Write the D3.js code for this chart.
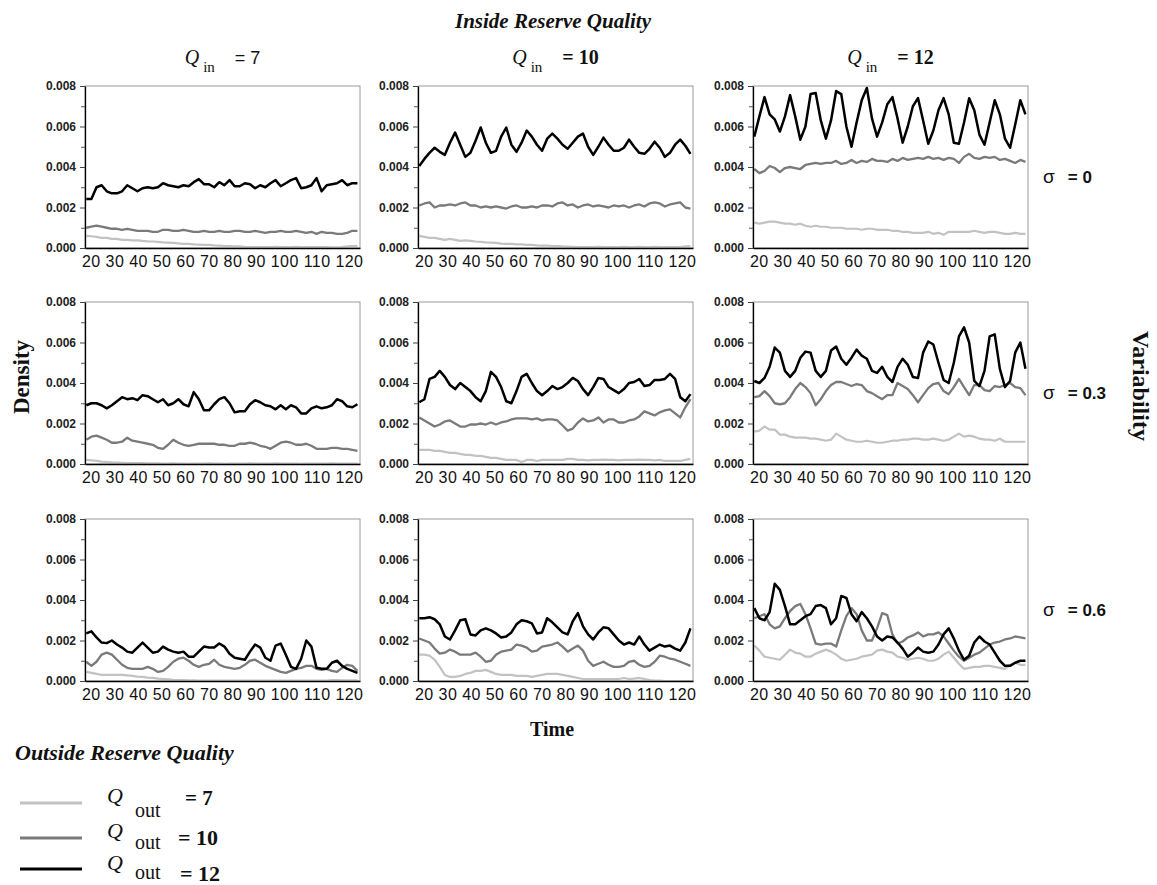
<!DOCTYPE html>
<html><head><meta charset="utf-8">
<script src="https://cdn.jsdelivr.net/npm/d3@7"></script>
<style>body{margin:0;background:#fff}svg{display:block}</style>
</head><body>
<svg id="chart" width="1157" height="885"></svg>
<script>
// ---------- categories / labels ----------
const time = [18,20,22,24,26,28,30,32,34,36,38,40,42,44,46,48,50,52,54,56,58,60,62,64,66,68,70,72,74,76,78,80,82,84,86,88,90,92,94,96,98,100,102,104,106,108,110,112,114,116,118,120,122,124];
const qInLabels = ["7","10","12"];
const sigmaLabels = ["0","0.3","0.6"];
const qOutLabels = ["7","10","12"];
const yMajorTicks = [0,0.002,0.004,0.006,0.008];
const yMinorTicks = [0.001,0.003,0.005,0.007];
const xTickLabels = ["20","30","40","50","60","70","80","90","100","110","120"];
const UNIT = 0.001; // series below are densities in units of 0.001

// ---------- series: sigma = 0 ----------
const sig0_in7_out7  = [0.6,0.58,0.55,0.5,0.5,0.45,0.45,0.4,0.4,0.38,0.38,0.35,0.33,0.32,0.3,0.28,0.27,0.25,0.23,0.2,0.2,0.18,0.17,0.15,0.15,0.13,0.12,0.1,0.1,0.08,0.08,0.06,0.05,0.05,0.05,0.05,0.05,0.06,0.05,0.05,0.05,0.06,0.05,0.05,0.04,0.05,0.05,0.04,0.03,0.03,0.05,0.08,0.1,0.1];
const sig0_in7_out10 = [1.0,1.05,1.1,1.05,1.0,0.95,0.95,0.9,0.95,0.9,0.85,0.85,0.85,0.8,0.8,0.9,0.9,0.85,0.85,0.9,0.85,0.8,0.8,0.85,0.8,0.8,0.85,0.8,0.8,0.85,0.85,0.8,0.8,0.85,0.8,0.75,0.8,0.8,0.85,0.8,0.8,0.85,0.8,0.75,0.8,0.7,0.8,0.75,0.75,0.7,0.7,0.75,0.85,0.85];
const sig0_in7_out12 = [2.42,2.42,3.0,3.1,2.8,2.7,2.7,2.8,3.1,2.95,2.8,2.95,3.0,2.95,3.0,3.2,3.1,3.05,3.0,3.1,3.05,3.25,3.4,3.15,3.15,3.0,3.25,3.1,3.35,3.05,3.05,3.2,3.15,2.95,3.1,3.0,3.2,3.35,3.05,3.2,3.35,3.45,2.95,3.0,3.1,3.45,2.8,3.1,3.15,3.2,3.35,3.1,3.2,3.2];

const sig0_in10_out7  = [0.6,0.55,0.5,0.5,0.45,0.4,0.45,0.4,0.35,0.38,0.35,0.32,0.3,0.28,0.27,0.25,0.22,0.2,0.2,0.18,0.18,0.15,0.15,0.13,0.12,0.12,0.1,0.1,0.08,0.07,0.06,0.05,0.05,0.05,0.05,0.06,0.05,0.05,0.05,0.05,0.06,0.05,0.05,0.06,0.05,0.05,0.06,0.05,0.05,0.04,0.04,0.05,0.08,0.1];
const sig0_in10_out10 = [2.1,2.2,2.25,2.0,2.1,2.1,2.15,2.1,2.2,2.25,2.1,2.1,2.0,2.05,2.0,2.05,2.0,1.95,2.05,2.1,2.0,2.0,2.05,2.0,2.1,2.1,2.05,2.2,2.25,2.1,2.15,2.0,2.1,2.15,2.05,2.1,2.05,2.0,2.1,2.05,2.1,2.0,2.1,2.15,2.05,2.2,2.25,2.2,2.05,2.15,2.2,2.25,2.0,1.95];
const sig0_in10_out12 = [4.05,4.4,4.7,4.95,4.75,4.6,5.2,5.7,5.1,4.5,4.7,5.3,5.95,5.2,4.7,4.8,5.5,5.95,5.1,4.75,5.2,5.8,5.5,5.1,4.8,5.4,5.65,5.4,5.1,4.9,5.2,5.5,5.65,5.0,4.6,5.0,5.45,5.1,4.8,4.8,4.95,5.35,5.0,4.7,4.65,4.9,5.25,4.95,4.5,4.7,5.1,5.35,5.05,4.65];

const sig0_in12_out7  = [1.25,1.2,1.25,1.3,1.3,1.25,1.2,1.2,1.15,1.2,1.1,1.05,1.1,1.05,1.05,1.0,1.0,1.0,0.95,0.95,0.95,0.9,0.95,0.95,0.9,0.9,0.9,0.85,0.85,0.8,0.8,0.75,0.75,0.75,0.8,0.7,0.75,0.65,0.8,0.8,0.8,0.8,0.8,0.85,0.8,0.75,0.8,0.8,0.75,0.7,0.7,0.75,0.7,0.7];
const sig0_in12_out10 = [3.9,3.7,3.8,4.05,3.95,3.75,3.95,4.0,3.95,3.9,4.1,4.15,4.2,4.15,4.2,4.2,4.3,4.15,4.2,4.35,4.2,4.3,4.25,4.4,4.3,4.3,4.25,4.4,4.3,4.45,4.35,4.4,4.45,4.4,4.5,4.4,4.45,4.35,4.45,4.4,4.2,4.5,4.65,4.45,4.4,4.5,4.45,4.5,4.35,4.4,4.3,4.2,4.35,4.25];
const sig0_in12_out12 = [5.5,6.5,7.45,6.6,6.35,5.75,6.5,7.55,6.5,5.35,6.0,7.6,7.65,6.3,5.4,6.3,7.75,7.6,6.0,5.0,6.2,7.3,7.9,6.4,5.5,6.2,7.1,7.45,6.4,5.2,6.0,7.0,7.4,6.3,5.15,5.8,6.8,7.4,6.6,5.2,5.15,6.2,7.4,6.8,5.6,5.1,6.2,7.3,6.6,5.4,4.95,6.1,7.3,6.6];

// ---------- series: sigma = 0.3 ----------
const sig03_in7_out7  = [0.2,0.18,0.15,0.12,0.1,0.08,0.07,0.06,0.05,0.05,0.04,0.04,0.03,0.03,0.03,0.02,0.02,0.03,0.02,0.02,0.01,0.02,0.02,0.02,0.03,0.02,0.02,0.01,0.02,0.02,0.02,0.02,0.03,0.02,0.02,0.02,0.02,0.03,0.02,0.02,0.02,0.02,0.01,0.02,0.02,0.02,0.02,0.02,0.03,0.02,0.02,0.02,0.02,0.02];
const sig03_in7_out10 = [1.2,1.35,1.4,1.3,1.2,1.05,1.05,1.1,1.3,1.15,1.1,1.05,1.0,0.95,0.8,0.75,0.95,1.2,1.05,0.95,0.9,0.95,1.0,1.0,1.0,1.0,0.95,0.95,0.9,0.9,1.0,1.0,1.05,1.0,0.9,0.85,0.75,0.9,1.05,1.1,1.05,0.95,0.95,1.0,0.9,0.75,0.75,0.75,0.8,0.8,0.75,0.75,0.7,0.65];
const sig03_in7_out12 = [2.9,3.0,3.0,2.9,2.75,2.9,3.1,3.3,3.2,3.25,3.15,3.4,3.35,3.2,3.05,3.2,2.9,3.0,3.2,2.95,2.85,3.55,3.2,2.65,2.65,2.95,3.2,3.3,3.0,2.55,2.6,2.6,2.95,3.15,3.05,2.9,2.85,2.7,2.9,2.7,2.9,2.8,2.5,2.5,2.75,2.85,2.75,2.8,2.9,3.2,3.1,2.85,2.8,2.95];

const sig03_in10_out7  = [0.7,0.7,0.7,0.65,0.65,0.6,0.55,0.55,0.5,0.45,0.45,0.4,0.4,0.35,0.3,0.3,0.25,0.2,0.2,0.2,0.1,0.2,0.2,0.15,0.2,0.2,0.2,0.2,0.2,0.25,0.25,0.2,0.2,0.18,0.2,0.2,0.22,0.2,0.2,0.18,0.2,0.2,0.2,0.22,0.2,0.2,0.18,0.2,0.15,0.15,0.15,0.15,0.2,0.25];
const sig03_in10_out10 = [2.3,2.15,2.0,1.85,1.95,2.1,2.15,2.0,1.85,1.85,1.95,1.95,2.0,1.95,2.05,1.95,2.05,2.1,2.2,2.25,2.25,2.25,2.2,2.25,2.15,2.2,2.2,2.15,1.9,1.65,1.75,2.05,2.25,2.1,2.15,2.3,2.05,2.2,2.2,2.05,2.05,2.15,2.2,2.35,2.6,2.5,2.4,2.55,2.65,2.7,2.5,2.3,2.8,3.2];
const sig03_in10_out12 = [3.05,3.2,4.2,4.3,4.6,4.3,3.9,3.7,4.0,3.8,3.6,3.3,3.1,3.6,4.55,4.3,3.8,3.1,3.0,3.6,4.3,4.45,4.0,3.6,3.4,3.6,3.85,3.7,3.8,4.0,4.25,4.1,3.7,3.4,3.8,4.25,4.2,3.8,3.65,3.5,3.7,4.0,4.05,4.2,3.85,3.9,4.15,4.15,4.2,4.45,4.2,3.3,3.1,3.45];

const sig03_in12_out7  = [1.6,1.65,1.85,1.7,1.7,1.45,1.45,1.35,1.3,1.3,1.3,1.25,1.25,1.2,1.15,1.2,1.5,1.35,1.2,1.15,1.1,1.1,1.15,1.1,1.05,1.05,1.1,1.15,1.15,1.2,1.2,1.25,1.25,1.2,1.2,1.25,1.2,1.15,1.2,1.35,1.5,1.35,1.4,1.35,1.25,1.2,1.2,1.15,1.25,1.1,1.1,1.1,1.1,1.1];
const sig03_in12_out10 = [3.3,3.35,3.6,3.35,3.0,2.95,3.0,3.3,3.7,4.0,3.8,3.5,2.9,3.2,3.6,3.9,4.05,4.05,3.95,3.85,3.95,3.9,3.6,3.5,3.35,3.2,3.4,3.4,4.0,3.85,3.7,3.4,3.05,3.4,3.75,3.95,4.0,3.6,3.45,3.8,4.2,3.8,3.4,3.9,3.9,3.65,3.6,3.85,3.8,3.9,4.0,3.8,3.75,3.4];
const sig03_in12_out12 = [4.1,4.0,4.25,4.8,5.75,5.5,4.6,4.3,4.6,5.25,5.55,5.5,4.6,4.3,4.6,5.6,5.8,5.2,4.9,5.25,5.65,5.35,5.2,4.6,4.5,4.8,4.3,4.05,4.8,5.2,4.9,4.3,4.25,5.5,6.05,5.9,5.0,4.15,4.0,5.0,6.3,6.75,6.0,4.1,3.85,4.6,6.3,6.4,4.7,3.8,4.1,5.5,6.0,4.7];

// ---------- series: sigma = 0.6 ----------
const sig06_in7_out7  = [0.45,0.4,0.35,0.3,0.3,0.3,0.3,0.3,0.28,0.25,0.22,0.2,0.17,0.15,0.12,0.1,0.08,0.06,0.05,0.04,0.03,0.03,0.02,0.02,0.02,0.02,0.02,0.02,0.02,0.02,0.02,0.02,0.02,0.02,0.02,0.02,0.02,0.02,0.02,0.02,0.02,0.02,0.02,0.02,0.02,0.02,0.02,0.02,0.05,0.05,0.03,0.03,0.03,0.03];
const sig06_in7_out10 = [0.95,0.75,0.95,1.3,1.4,1.3,1.05,0.8,0.65,0.6,0.6,0.6,0.7,0.6,0.45,0.5,0.7,0.95,1.1,1.15,1.0,0.8,0.7,0.8,0.85,1.05,0.8,0.7,0.65,0.6,0.65,0.8,1.0,1.05,0.9,0.75,0.65,0.55,0.45,0.4,0.5,0.6,0.65,0.75,0.75,0.6,0.55,0.6,0.5,0.45,0.65,0.8,0.75,0.5];
const sig06_in7_out12 = [2.35,2.45,2.15,1.9,1.87,2.0,1.8,1.65,1.45,1.4,1.65,1.9,1.65,1.4,1.45,1.7,1.55,1.45,1.4,1.45,1.2,1.2,1.45,1.7,1.65,1.65,1.85,1.7,1.35,1.15,1.1,1.05,1.45,1.8,1.65,1.15,1.0,1.75,1.85,1.3,0.7,0.6,1.1,2.0,1.7,0.65,0.6,0.6,0.9,1.0,0.75,0.6,0.5,0.4];

const sig06_in10_out7  = [1.3,1.3,1.25,1.05,0.7,0.3,0.2,0.2,0.25,0.35,0.4,0.5,0.5,0.55,0.45,0.35,0.3,0.3,0.3,0.25,0.25,0.25,0.2,0.25,0.3,0.35,0.35,0.35,0.3,0.25,0.2,0.15,0.1,0.1,0.1,0.1,0.1,0.1,0.1,0.1,0.15,0.1,0.12,0.15,0.1,0.05,0.02,0.02,0.0,0.0,0.0,0.0,0.0,0.0];
const sig06_in10_out10 = [2.1,2.0,1.9,1.6,1.35,1.4,1.55,1.45,1.3,1.3,1.3,1.4,1.2,0.95,1.0,1.3,1.45,1.5,1.55,1.8,1.75,1.65,1.45,1.5,1.7,1.75,1.8,1.9,1.7,1.45,1.6,1.75,1.5,1.0,0.75,0.85,0.95,0.8,0.7,0.7,0.75,0.95,1.0,0.8,0.7,0.75,0.95,1.25,1.2,1.1,1.05,0.95,0.85,0.75];
const sig06_in10_out12 = [3.1,3.1,3.15,3.05,2.8,2.2,2.05,2.5,3.0,3.05,2.3,2.25,2.5,2.6,2.5,2.35,2.15,2.2,2.4,2.8,3.0,2.95,2.85,2.35,2.4,3.1,2.9,2.65,2.4,2.3,2.95,3.35,2.7,2.3,2.05,2.4,2.65,2.6,2.3,2.0,1.8,1.9,1.8,2.2,1.8,1.5,1.65,1.8,1.7,1.75,1.6,1.5,1.9,2.6];

const sig06_in12_out7  = [1.75,1.5,1.2,1.15,1.1,1.05,1.3,1.55,1.4,1.35,1.2,1.2,1.35,1.45,1.55,1.45,1.3,1.1,1.0,1.05,1.1,1.2,1.25,1.3,1.5,1.55,1.45,1.4,1.2,1.15,1.05,1.1,1.15,1.1,1.0,1.0,1.1,1.3,1.45,1.15,0.85,0.6,0.65,0.7,0.7,0.75,0.75,0.7,0.65,0.6,0.8,0.9,0.8,0.8];
const sig06_in12_out10 = [3.1,3.2,3.3,2.8,2.6,2.7,3.1,3.45,3.7,3.8,3.3,2.6,1.85,1.8,1.85,1.85,1.7,2.5,3.2,3.6,3.3,2.5,2.0,2.0,2.6,3.35,3.25,2.3,1.85,1.95,2.15,2.25,2.4,2.2,2.3,2.3,2.4,2.2,1.85,1.5,1.2,1.0,1.15,1.3,1.4,1.6,1.8,1.9,1.95,2.05,2.1,2.2,2.15,2.1];
const sig06_in12_out12 = [3.6,3.1,3.0,3.4,4.8,4.5,3.7,2.8,2.8,3.0,3.2,3.3,3.7,3.75,3.6,2.8,3.1,4.2,4.1,3.3,2.95,3.4,3.1,2.7,2.2,2.0,2.2,2.15,1.9,1.6,1.2,1.4,1.65,1.45,1.4,1.45,1.8,2.3,2.6,2.1,1.5,1.05,1.25,1.9,2.2,1.95,1.8,1.4,1.0,0.75,0.75,0.9,1.0,1.0];

// ---------- panel table built from the arrays ----------
const grid = [
  [[sig0_in7_out7, sig0_in7_out10, sig0_in7_out12],
   [sig0_in10_out7, sig0_in10_out10, sig0_in10_out12],
   [sig0_in12_out7, sig0_in12_out10, sig0_in12_out12]],
  [[sig03_in7_out7, sig03_in7_out10, sig03_in7_out12],
   [sig03_in10_out7, sig03_in10_out10, sig03_in10_out12],
   [sig03_in12_out7, sig03_in12_out10, sig03_in12_out12]],
  [[sig06_in7_out7, sig06_in7_out10, sig06_in7_out12],
   [sig06_in10_out7, sig06_in10_out10, sig06_in10_out12],
   [sig06_in12_out7, sig06_in12_out10, sig06_in12_out12]]
];

// ---------- layout & style ----------
const SERIF = "'Liberation Serif','Times New Roman',serif";
const SANS = "'Liberation Sans',Arial,sans-serif";
const colors = ["#c2c2c2", "#7a7a7a", "#000000"];
const widths = [2.2, 2.3, 2.5];
const colX = [85, 418, 753];
const rowY = [86, 302, 519];
const W = 275, H = 162;

const svg = d3.select("#chart");
const x = d3.scaleLinear().domain([17.5, 125]).range([0, W]);
const y = d3.scaleLinear().domain([0, 0.008]).range([H, 0]);
const line = d3.line().x((d, i) => x(time[i])).y(d => y(d * UNIT));

grid.forEach((row, r) => {
  row.forEach((series, c) => {
    const g = svg.append("g").attr("transform", `translate(${colX[c]},${rowY[r]})`);
    g.append("rect").attr("x", 0).attr("y", 0).attr("width", W).attr("height", H)
      .attr("fill", "none").attr("stroke", "#9a9a9a").attr("stroke-width", 1);

    series.forEach((vals, s) => {
      g.append("path").datum(vals).attr("d", line)
        .attr("fill", "none").attr("stroke", colors[s])
        .attr("stroke-width", widths[s]).attr("stroke-linejoin", "round");
    });

    // bottom axis line
    const xb = g.append("g").attr("transform", `translate(0,${H})`)
      .call(d3.axisBottom(x).tickValues([]).tickSizeOuter(0));
    xb.select(".domain").attr("stroke", "#000").attr("stroke-width", 1.3);

    // x labels as a packed row of tick labels
    g.append("text")
      .attr("x", -3).attr("y", H + 19)
      .attr("textLength", 281).attr("lengthAdjust", "spacing")
      .attr("font-family", SANS).attr("font-size", 16).attr("fill", "#111")
      .text(xTickLabels.join(" "));

    // y axis
    const ya = g.append("g").call(d3.axisLeft(y).tickValues(yMajorTicks)
      .tickFormat(d3.format(".3f")).tickSize(5).tickSizeOuter(0).tickPadding(4));
    ya.select(".domain").attr("stroke", "#000").attr("stroke-width", 1.3);
    ya.selectAll("text").attr("font-family", SANS).attr("font-size", 12)
      .attr("font-weight", "bold").attr("fill", "#222");
    ya.selectAll(".tick line").attr("stroke", "#444");
    const ym = g.append("g").call(d3.axisLeft(y).tickValues(yMinorTicks)
      .tickFormat("").tickSize(4).tickSizeOuter(0));
    ym.select(".domain").remove();
    ym.selectAll(".tick line").attr("stroke", "#555");
  });
});

// column titles
qInLabels.forEach((q, c) => {
  const t = svg.append("text").attr("x", colX[c] + W / 2).attr("y", 64)
    .attr("text-anchor", "middle").attr("fill", "#111");
  t.append("tspan").attr("font-family", SERIF).attr("font-style", "italic")
    .attr("font-size", 20).text("Q");
  t.append("tspan").attr("font-family", SERIF).attr("font-size", 15)
    .attr("dx", 4).attr("dy", 8).text("in");
  t.append("tspan").attr("font-family", c === 0 ? SANS : SERIF)
    .attr("font-weight", c === 0 ? "normal" : "bold")
    .attr("font-size", c === 0 ? 18 : 20).attr("dx", 20).attr("dy", -8).text("= " + q);
});

// row labels
sigmaLabels.forEach((s, r) => {
  const t = svg.append("text").attr("x", 1043).attr("y", rowY[r] + H / 2 + 16)
    .attr("font-family", SANS).attr("font-weight", "bold").attr("font-size", 17).attr("fill", "#111");
  t.append("tspan").attr("font-weight", "normal").attr("font-size", 19).text("σ");
  t.append("tspan").attr("dx", 13).text("= " + s);
});

// titles
svg.append("text").attr("x", 553).attr("y", 28).attr("text-anchor", "middle")
  .attr("font-family", SERIF).attr("font-weight", "bold").attr("font-style", "italic")
  .attr("font-size", 21).attr("fill", "#111").text("Inside Reserve Quality");
svg.append("text").attr("transform", "translate(29,377) rotate(-90)").attr("text-anchor", "middle")
  .attr("font-family", SERIF).attr("font-weight", "bold").attr("font-size", 23).attr("fill", "#111").text("Density");
svg.append("text").attr("transform", "translate(1133,386) rotate(90)").attr("text-anchor", "middle")
  .attr("font-family", SERIF).attr("font-weight", "bold").attr("font-size", 24).attr("fill", "#111").text("Variability");
svg.append("text").attr("x", 552).attr("y", 736).attr("text-anchor", "middle")
  .attr("font-family", SERIF).attr("font-weight", "bold").attr("font-size", 20).attr("fill", "#111").text("Time");

// legend
svg.append("text").attr("x", 15).attr("y", 760)
  .attr("font-family", SERIF).attr("font-weight", "bold").attr("font-style", "italic")
  .attr("font-size", 22).attr("fill", "#111").text("Outside Reserve Quality");
const legLineY = [803, 838, 869];
const legQY = [803, 838, 870];
const legSubY = [817, 849, 879];
const legEqY = [805, 845, 881];
const legEqX = [185, 178, 180];
qOutLabels.forEach((q, i) => {
  svg.append("line").attr("x1", 20).attr("x2", 82).attr("y1", legLineY[i]).attr("y2", legLineY[i])
    .attr("stroke", colors[i]).attr("stroke-width", 3);
  svg.append("text").attr("x", 107).attr("y", legQY[i]).attr("font-family", SERIF)
    .attr("font-style", "italic").attr("font-size", 22).attr("fill", "#111").text("Q");
  svg.append("text").attr("x", 135).attr("y", legSubY[i]).attr("font-family", SERIF)
    .attr("font-size", 20).attr("fill", "#111").text("out");
  svg.append("text").attr("x", legEqX[i]).attr("y", legEqY[i]).attr("font-family", SERIF)
    .attr("font-weight", "bold").attr("font-size", i === 0 ? 21 : 22).attr("fill", "#111").text("= " + q);
});
</script>
</body></html>
